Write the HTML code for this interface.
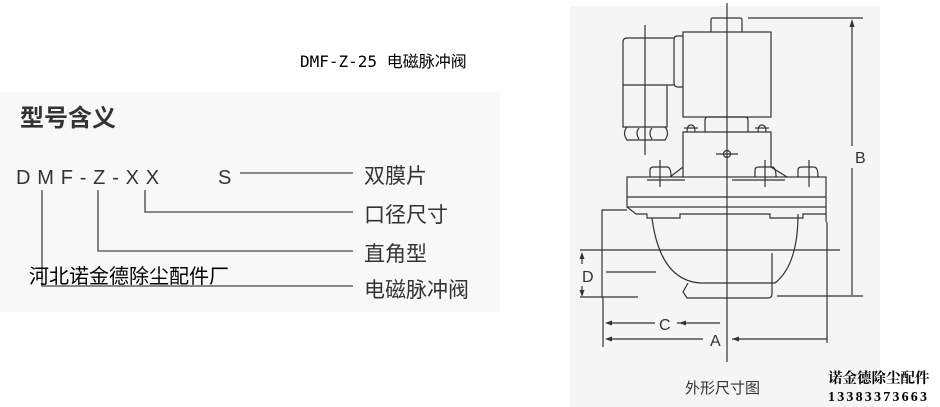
<!DOCTYPE html>
<html><head><meta charset="utf-8"><style>
html,body{margin:0;padding:0;background:#fff;}
body{width:940px;height:407px;overflow:hidden;position:relative;}
svg{position:absolute;left:0;top:0;}
</style></head><body>
<svg width="940" height="407" viewBox="0 0 940 407" xmlns="http://www.w3.org/2000/svg">
<rect x="0" y="92" width="500" height="220" fill="#f8f8f8"/>
<rect x="570" y="6" width="310" height="401" fill="#f5f5f5"/>
<text x="300" y="67" font-family="'DejaVu Sans Mono', 'WenQuanYi Zen Hei', monospace" font-size="16" fill="#000">DMF-Z-25 电磁脉冲阀</text>
<text x="20" y="126" font-family="'Noto Sans CJK SC', sans-serif" font-weight="bold" font-size="24" fill="#333">型号含义</text>
<text x="16" y="184" font-family="'Liberation Sans', sans-serif" font-size="20" fill="#333" letter-spacing="6.8">DMF-Z-XX</text>
<text x="218" y="184" font-family="'Liberation Sans', sans-serif" font-size="20" fill="#333">S</text>
<g font-family="'Noto Sans CJK SC', sans-serif" font-size="21" fill="#333">
<text x="364" y="183">双膜片</text>
<text x="364" y="222">口径尺寸</text>
<text x="364" y="261">直角型</text>
<text x="364" y="297">电磁脉冲阀</text>
</g>
<g stroke="#444" stroke-width="1.3" fill="none">
<line x1="240" y1="173" x2="353" y2="173"/>
<polyline points="145,190 145,212 353,212"/>
<polyline points="98,190 98,251 353,251"/>
<polyline points="42,190 42,286 353,286"/>
</g>
<text x="29" y="283" font-family="'Noto Sans CJK SC', sans-serif" font-size="20" fill="#000">河北诺金德除尘配件厂</text>

<g stroke="#333" stroke-width="1.2" fill="none">
<line x1="727" y1="3" x2="727" y2="362"/>
<line x1="645" y1="25" x2="645" y2="155"/>
<path d="M711,32 V20 Q711,18 713,18 H740 Q742,18 742,20 V32"/>
<rect x="683" y="32" width="88" height="85"/>
<path d="M683,36 H677 Q674,36 674,40 V83 Q674,87 678,87 H683"/>
<path d="M674,38 H627 Q623,38 623,42 V127 H667 V85 H674 M623,85 H667"/>
<path d="M627,127 Q622,133 627,140 H665 Q670,133 665,127 M639,128 Q635,133 639,139 M652,128 Q648,133 652,139"/>
<path d="M705,132 V120 Q705,117 708,117 H745 Q748,117 748,120 V132"/>
<path d="M683,177 V132 H771 V167 L787,177 M683,167 L670,177"/>
<path d="M687,132 Q687,125 691,125 Q695,125 695,132 M758,132 Q758,125 762,125 Q766,125 766,132"/>
<line x1="684" y1="128" x2="698" y2="128"/><line x1="755" y1="128" x2="769" y2="128"/>
<circle cx="727" cy="154" r="3.5"/><line x1="716" y1="154" x2="738" y2="154"/>
<rect x="627" y="177" width="199" height="30"/>
<line x1="627" y1="197" x2="826" y2="197"/>
<path d="M650,177 V170 Q650,167 654,167 H667 Q671,167 671,177 M755,177 V170 Q755,167 759,167 H772 Q776,167 776,177 M798,177 V170 Q798,167 802,167 H814 Q818,167 818,177"/>
<line x1="660" y1="160" x2="660" y2="187"/><line x1="765" y1="160" x2="765" y2="187"/><line x1="809" y1="160" x2="809" y2="187"/>
<line x1="647" y1="180" x2="685" y2="180"/><line x1="732" y1="180" x2="785" y2="180"/>
<path d="M627,207 L636,214 H647 V218 H680 V214 H770 V218 H803 V214 H826 V207"/>
<path d="M627,210 H602 V297"/>
<path d="M652,218 Q660,280 700,283 H775 Q798,265 798,214"/>
<path d="M772,253 V294 Q772,298 768,298 H687 L683,292 L688,283"/>
<line x1="826" y1="214" x2="826" y2="222"/>
<line x1="606" y1="272" x2="656" y2="272"/>
<line x1="748" y1="18" x2="863" y2="18"/>
<line x1="580" y1="250" x2="840" y2="250"/>
<line x1="580" y1="297" x2="638" y2="297"/>
<line x1="777" y1="296" x2="863" y2="296"/>
<line x1="603" y1="297" x2="603" y2="347"/>
<line x1="827" y1="222" x2="827" y2="343"/>
<line x1="852" y1="22" x2="852" y2="146"/><line x1="852" y1="168" x2="852" y2="295"/>
<line x1="582" y1="255" x2="582" y2="264"/><line x1="582" y1="286" x2="582" y2="295"/>
<line x1="607" y1="323" x2="655" y2="323"/><line x1="677" y1="323" x2="720" y2="323"/>
<line x1="607" y1="339" x2="703" y2="339"/><line x1="732" y1="339" x2="827" y2="339"/>
</g>
<g fill="#333">
<path d="M852,19 L849.5,27 L854.5,27Z"/>
<path d="M582,252 L579.5,259 L584.5,259Z"/>
<path d="M582,297 L579.5,290 L584.5,290Z"/>
<path d="M605,323 L612,320.5 L612,325.5Z"/>
<path d="M679,323 L686,320.5 L686,325.5Z"/>
<path d="M605,339 L612,336.5 L612,341.5Z"/>
<path d="M732,339 L739,336.5 L739,341.5Z"/>
</g>
<g font-family="'Liberation Sans', sans-serif" font-size="16" fill="#333">
<text x="855" y="163">B</text>
<text x="582" y="282">D</text>
<text x="659" y="330">C</text>
<text x="710" y="346">A</text>
</g>
<text x="685" y="393" font-family="'Noto Sans CJK SC', sans-serif" font-size="15" fill="#333">外形尺寸图</text>
<text x="828" y="383" font-family="'Noto Serif CJK SC', serif" font-weight="bold" font-size="14.5" fill="#000">诺金德除尘配件</text>
<text x="828" y="401" font-family="'Liberation Serif', serif" font-weight="bold" font-size="14" fill="#000" letter-spacing="2.2">13383373663</text>
</svg>
</body></html>
